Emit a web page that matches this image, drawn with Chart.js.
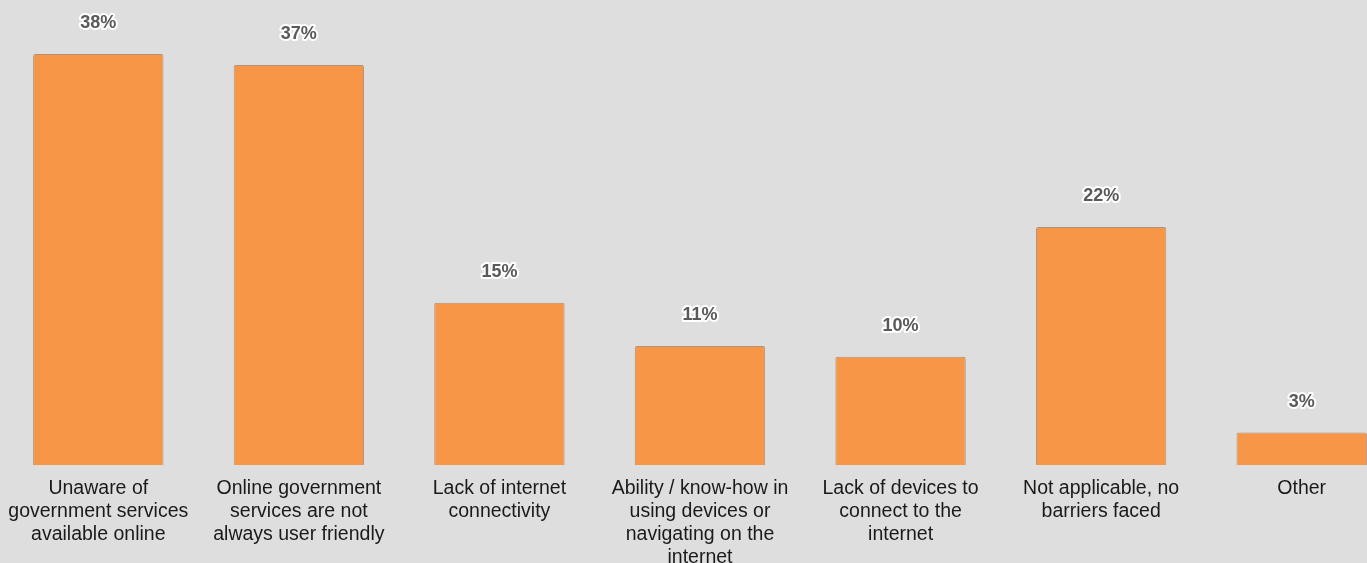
<!DOCTYPE html>
<html>
<head>
<meta charset="utf-8">
<script src="https://cdn.jsdelivr.net/npm/chart.js@4"></script>
<style>
  html, body { margin: 0; padding: 0; background: #dedede; overflow: hidden; }
  #wrap { position: absolute; left: -2px; top: 0; width: 1404px; height: 563px; }
</style>
</head>
<body>
<div id="wrap"><canvas id="myChart"></canvas></div>
<script>
// barriers to using online government services (% of respondents)
const categories = [
  ['Unaware of', 'government services', 'available online'],
  ['Online government', 'services are not', 'always user friendly'],
  ['Lack of internet', 'connectivity'],
  ['Ability / know-how in', 'using devices or', 'navigating on the', 'internet'],
  ['Lack of devices to', 'connect to the', 'internet'],
  ['Not applicable, no', 'barriers faced'],
  ['Other']
];
const shares = [38, 37, 15, 11, 10, 22, 3];

// percentage label above each bar, white halo around dark text
const valueLabels = {
  id: 'valueLabels',
  afterDatasetsDraw(chart) {
    const ctx = chart.ctx;
    const meta = chart.getDatasetMeta(0);
    ctx.save();
    ctx.font = 'bold 18px "Liberation Sans", Arial, sans-serif';
    ctx.textAlign = 'center';
    ctx.textBaseline = 'middle';
    ctx.lineJoin = 'round';
    meta.data.forEach((bar, i) => {
      const text = shares[i] + '%';
      const y = bar.y - 31;
      ctx.strokeStyle = '#ffffff';
      ctx.lineWidth = 4;
      ctx.strokeText(text, bar.x, y);
      ctx.fillStyle = '#5a5a5a';
      ctx.fillText(text, bar.x, y);
    });
    ctx.restore();
  }
};

const ctx = document.getElementById('myChart').getContext('2d');
new Chart(ctx, {
  type: 'bar',
  data: {
    labels: categories,
    datasets: [{
      data: shares,
      backgroundColor: '#f79646',
      borderColor: '#b0917a',
      borderWidth: 1,
      borderRadius: 2,
      borderSkipped: 'bottom',
      barPercentage: 0.65,
      categoryPercentage: 1
    }]
  },
  options: {
    responsive: true,
    maintainAspectRatio: false,
    animation: false,
    layout: { padding: 0 },
    plugins: {
      legend: { display: false },
      tooltip: { enabled: false }
    },
    scales: {
      x: {
        grid: { display: false },
        border: { display: false },
        afterFit(scale) { scale.height = 98; },
        ticks: {
          autoSkip: false,
          maxRotation: 0,
          padding: 4,
          color: '#1a1a1a',
          font: { family: '"Liberation Sans", Arial, sans-serif', size: 19.5, lineHeight: '23px' }
        }
      },
      y: {
        display: false,
        min: 0,
        max: 43
      }
    }
  },
  plugins: [valueLabels]
});
</script>
</body>
</html>
